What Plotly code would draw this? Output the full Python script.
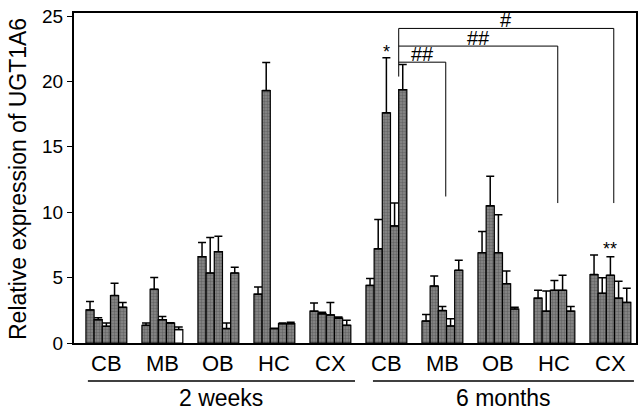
import plotly.graph_objects as go

# ---------------- data ----------------
regions = ["CB", "MB", "OB", "HC", "CX", "CB", "MB", "OB", "HC", "CX"]
periods = ["2 weeks", "6 months"]
y_title = "Relative expression of UGT1A6"

# five bars per region group (means) and upper error (SD)
s1 = [2.53, 1.35, 6.60, 3.73, 2.43, 4.40, 1.68, 6.90, 3.43, 5.23]
s2 = [1.78, 4.10, 5.35, 19.30, 2.23, 7.20, 4.35, 10.49, 2.43, 3.80]
s3 = [1.28, 1.78, 6.98, 1.10, 2.15, 17.60, 2.48, 6.90, 4.03, 5.18]
s4 = [3.63, 1.52, 1.10, 1.48, 1.90, 8.95, 1.30, 4.53, 4.03, 3.43]
s5 = [2.73, 1.03, 5.35, 1.48, 1.35, 19.37, 5.56, 2.60, 2.43, 3.10]

e1 = [0.65, 0.17, 1.08, 0.55, 0.62, 0.53, 0.50, 1.63, 0.60, 1.50]
e2 = [0.15, 0.90, 2.71, 2.15, 0.12, 2.25, 0.78, 2.25, 1.55, 1.18]
e3 = [0.24, 0.25, 1.18, 0.02, 0.95, 4.20, 0.32, 2.91, 0.75, 1.42]
e4 = [0.93, 0.03, 0.42, 0.04, 0.08, 1.75, 0.55, 0.97, 1.15, 1.30]
e5 = [0.37, 0.19, 0.45, 0.10, 0.38, 1.93, 0.77, 0.13, 0.37, 1.08]

# significance brackets from 6-month CB (last bar) to other 6-month regions
bracket_targets = [6, 8, 9]            # region indices
bracket_levels = [21.47, 22.70, 24.05]  # horizontal line level
bracket_drops = [11.2, 10.7, 10.7]      # lower end of right leg
bracket_labels = ["##", "##", "#"]

FONT = "Liberation Sans"
NARROW = "Liberation Sans Narrow, Arial Narrow, Liberation Sans"
values = [s1, s2, s3, s4, s5]
errors = [e1, e2, e3, e4, e5]
xs = list(range(len(regions)))

fig = go.Figure()
for i, (v, e) in enumerate(zip(values, errors)):
    colors = ["#8a8a8a"] * len(v)
    shapes = ["."] * len(v)
    if i == 4:
        colors[1] = "white"
        shapes[1] = ""
    fig.add_trace(go.Bar(
        x=xs, y=v,
        marker=dict(color=colors, line=dict(color="black", width=1.2),
                    pattern=dict(shape=shapes, fgcolor="#1a1a1a", size=3, solidity=0.5)),
        error_y=dict(type="data", array=e, arrayminus=[0] * len(e), symmetric=False,
                     color="black", thickness=1.5, width=4),
        showlegend=False,
    ))

annotations = []
shapes = []
# category labels
for k, r in enumerate(regions):
    annotations.append(dict(x=k, y=-0.062, xref="x", yref="paper", text=r, showarrow=False,
                            font=dict(size=22, family=NARROW, color="black"),
                            xanchor="center", yanchor="middle"))
# period lines and labels
half = len(regions) // 2
spans = [(-0.33, half - 1 + 0.44), (half - 0.24, len(regions) - 1 + 0.42)]
for (a, b), p in zip(spans, periods):
    shapes.append(dict(type="line", xref="x", yref="paper", x0=a, x1=b, y0=-0.115, y1=-0.115,
                       line=dict(color="black", width=1.5)))
    annotations.append(dict(x=(a + b) / 2, y=-0.167, xref="x", yref="paper", text=p,
                            showarrow=False, font=dict(size=23, family=FONT, color="black"),
                            xanchor="center", yanchor="middle"))

# y-axis title
annotations.append(dict(x=0, y=0.497, xref="paper", yref="paper", text=y_title, textangle=-90,
                        showarrow=False, xanchor="center", yanchor="middle", xshift=-56,
                        font=dict(size=23, family=FONT, color="black")))

# brackets
src_x = half + 0.22
src_bottom = 20.37
shapes.append(dict(type="line", xref="x", yref="y", x0=src_x, x1=src_x,
                   y0=src_bottom, y1=max(bracket_levels), line=dict(color="black", width=1)))
for t, lvl, drop, lab in zip(bracket_targets, bracket_levels, bracket_drops, bracket_labels):
    tx = t + 0.06
    shapes.append(dict(type="line", xref="x", yref="y", x0=src_x, x1=tx, y0=lvl, y1=lvl,
                       line=dict(color="black", width=1)))
    shapes.append(dict(type="line", xref="x", yref="y", x0=tx, x1=tx, y0=drop, y1=lvl,
                       line=dict(color="black", width=1)))
    annotations.append(dict(x=(src_x + tx) / 2, y=lvl, xref="x", yref="y", text=lab,
                            showarrow=False, yanchor="bottom", yshift=-5,
                            font=dict(size=20, family=FONT, color="black")))

# asterisks
annotations.append(dict(x=half, y=s3[half] + e3[half], xref="x", yref="y", text="*",
                        showarrow=False, yanchor="bottom", yshift=-6,
                        font=dict(size=18, family=FONT, color="black")))
last = len(regions) - 1
annotations.append(dict(x=last, y=max(s1[last] + e1[last], s3[last] + e3[last]), xref="x", yref="y",
                        text="**", showarrow=False, yanchor="bottom", yshift=-6,
                        font=dict(size=18, family=FONT, color="black")))

fig.update_layout(
    width=644, height=410,
    margin=dict(l=74, r=6, t=7, b=67),
    plot_bgcolor="white", paper_bgcolor="white",
    barmode="group", bargap=0.27, bargroupgap=0,
    font=dict(family=FONT, color="black"),
    annotations=annotations, shapes=shapes,
    xaxis=dict(range=[-0.578, 9.457], showticklabels=False, ticks="", showgrid=False,
               zeroline=False, showline=True, linecolor="black", linewidth=2, mirror=True),
    yaxis=dict(range=[0, 25.23], tickvals=[0, 5, 10, 15, 20, 25], ticks="outside", ticklen=5,
               tickwidth=1, tickcolor="black", showgrid=False, zeroline=False,
               showline=True, linecolor="black", linewidth=2, mirror=True,
               tickfont=dict(size=19, family=FONT, color="black")),
)

fig.write_html("out.html", config={"displayModeBar": False},
               post_script="document.body.style.margin='0';document.body.style.padding='0';")
